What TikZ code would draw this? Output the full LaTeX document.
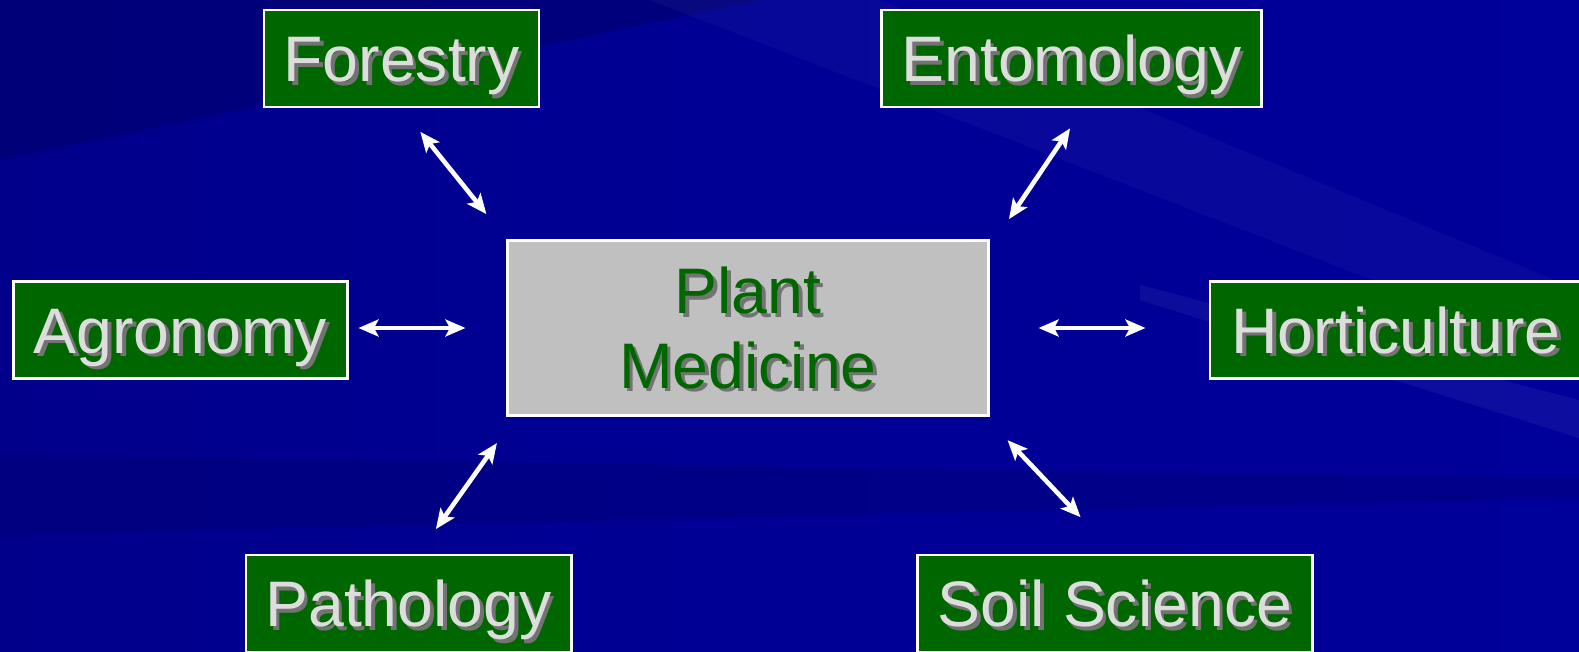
\documentclass[tikz,border=0pt]{standalone}
\usepackage{fontspec}
\setmainfont{Liberation Sans}
\definecolor{bgnavy}{HTML}{00009A}
\definecolor{bgdeep}{HTML}{000068}
\definecolor{boxgreen}{HTML}{006600}
\definecolor{boxgrey}{HTML}{C0C0C0}
\definecolor{txtlight}{HTML}{DDDDDD}
\usetikzlibrary{arrows.meta, calc}
% text with a small dark drop shadow
\newcommand{\shadetxt}[1]{\makebox[0pt][l]{\raisebox{-1pt}[0pt][0pt]{\kern1pt\textcolor{black!55}{#1}}}#1}
\tikzset{
  field/.style={draw=white, line width=0.8pt, fill=boxgreen, text=txtlight, minimum height=0.97cm, inner sep=0pt, text height=13.2pt, text depth=0pt, font=\fontsize{18.3}{21}\selectfont},
  hub/.style={draw=white, line width=0.8pt, fill=boxgrey, text=boxgreen, minimum width=4.8cm, minimum height=1.75cm, inner sep=0pt, align=center, font=\fontsize{18.3}{21.3}\selectfont},
  link/.style={{Stealth[length=2mm, width=1.7mm, inset=0.45mm]}-{Stealth[length=2mm, width=1.7mm, inset=0.45mm]}, white, line width=1.3pt}
}

\begin{document}
\begin{tikzpicture}[x=0.01cm, y=-0.01cm]
        \useasboundingbox (0,0) rectangle (1579,651);
        % background
        \shade[left color=bgnavy!70!bgdeep, right color=bgnavy, middle color=bgnavy!90!bgdeep] (0,0) rectangle (1579,651);
        \fill[bgdeep, opacity=0.5] (0,0) -- (760,0) -- (0,160) -- cycle;
        \fill[bgdeep, opacity=0.3] (0,455) -- (1579,478) -- (1579,498) -- (0,535) -- cycle;
        \fill[white, opacity=0.03] (650,0) -- (880,0) -- (1579,290) -- (1579,360) -- cycle;
        \fill[white, opacity=0.05] (1140,285) -- (1579,400) -- (1579,438) -- (1140,300) -- cycle;
        \node[hub] (pm) at (748,328) {\shadetxt{Plant}\\\shadetxt{Medicine}};
        \node[field, minimum width=2.75cm] (fo) at (401.5,58.5) {\shadetxt{Forestry}};
        \node[field, minimum width=3.79cm] (ento) at (1071.5,58.5) {\shadetxt{Entomology}};
        \node[field, minimum width=3.33cm] (agr) at (180.5,330) {\shadetxt{Agronomy}};
        \node[field, minimum width=3.72cm] (hort) at (1396,330) {\shadetxt{Horticulture}};
        \node[field, minimum width=3.25cm] (path) at (408.5,603.5) {\shadetxt{Pathology}};
        \node[field, minimum width=3.94cm] (soil) at (1115,603.5) {\shadetxt{Soil Science}};
        \draw[link, shorten <=0.3cm, shorten >=0.32cm] (fo.south) -- (pm.north west);
        \draw[link, shorten <=0.24cm, shorten >=0.24cm] ($(ento.south)+(12,0)$) -- ($(pm.north east)+(6,0)$);
        \draw[link, shorten <=0.1cm, shorten >=0.41cm] (agr.east |- pm.west) -- (pm.west);
        \draw[link, shorten <=0.49cm, shorten >=0.63cm] (pm.east) -- (hort.west |- pm.east);
        \draw[link, shorten <=0.3cm, shorten >=0.32cm] ($(path.north)+(10,0)$) -- ($(pm.south west)+(9,0)$);
        \draw[link, shorten <=0.5cm, shorten >=0.32cm] (soil.north) -- ($(pm.south east)+(-4,0)$);
      \end{tikzpicture}
\end{document}
